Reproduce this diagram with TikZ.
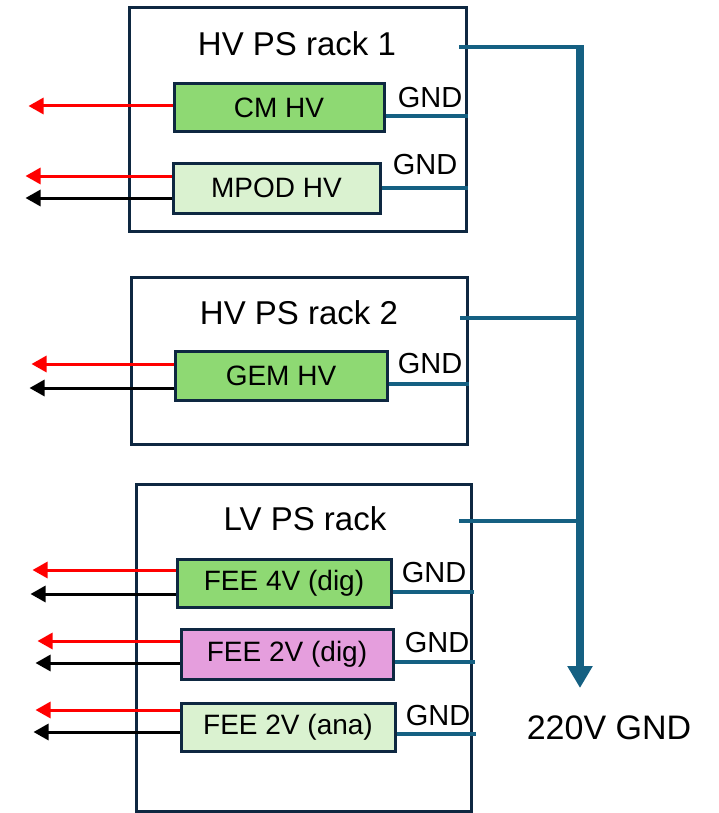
\documentclass[tikz,border=0pt]{standalone}
\usepackage{fontspec}
\setmainfont{Liberation Sans}
\usetikzlibrary{arrows.meta}
\definecolor{rackline}{HTML}{0E2841}
\definecolor{gndblue}{HTML}{156082}
\definecolor{hvgreen}{HTML}{8ED973}
\definecolor{palegreen}{HTML}{DAF2D0}
\definecolor{fuchsia}{HTML}{E59EDD}

\begin{document}
\begin{tikzpicture}[x=0.5pt, y=-0.5pt,
		rack/.style={draw=rackline, line width=1.5pt, inner sep=0pt},
		module/.style={draw=rackline, line width=1.5pt, inner sep=0pt, font=\fontsize{14}{16}\selectfont},
		racktitle/.style={font=\fontsize{16.5}{19}\selectfont},
		gndlabel/.style={font=\fontsize{14.5}{16}\selectfont},
		gndwire/.style={draw=gndblue, line width=1.6pt},
		hvout/.style={draw=red, line width=1.5pt, -{Triangle[width=8pt, length=7.5pt]}},
		retout/.style={draw=black, line width=1.5pt, -{Triangle[width=8pt, length=7.5pt]}},
		bus/.style={draw=gndblue, line width=3.75pt, -{Triangle[width=12pt, length=11pt]}}]
	\useasboundingbox (0,0) rectangle (718,813);

	\node[rack, minimum width=168.5pt, minimum height=112pt] (rack1) at (297.5,119.5) {};
	\node[rack, minimum width=168pt, minimum height=83.5pt] (rack2) at (299,360.5) {};
	\node[rack, minimum width=167.5pt, minimum height=163.5pt] (rackLV) at (303.5,647.5) {};

	\node[racktitle] (title1) at (297,44) {HV PS rack 1};
	\node[racktitle] (title2) at (299,313) {HV PS rack 2};
	\node[racktitle] (titleLV) at (305,519) {LV PS rack};

	\node[module, fill=hvgreen, minimum width=105pt, minimum height=23.5pt] (cmhv) at (279,107.5) {CM HV};
	\node[module, fill=palegreen, minimum width=103.5pt, minimum height=25pt] (mpodhv) at (276.5,188) {MPOD HV};
	\node[module, fill=hvgreen, minimum width=106pt, minimum height=24.5pt] (gemhv) at (281,375.5) {GEM HV};
	\node[module, fill=hvgreen, minimum width=107pt, minimum height=24pt] (fee4dig) at (284,583) {FEE 4V (dig)};
	\node[module, fill=fuchsia, minimum width=106pt, minimum height=25pt] (fee2dig) at (287,654) {FEE 2V (dig)};
	\node[module, fill=palegreen, minimum width=107pt, minimum height=24pt] (fee2ana) at (288,727) {FEE 2V (ana)};

	\draw[hvout] (cmhv.west |- 0,106) -- ++(-144,0);
	\draw[hvout] (mpodhv.west |- 0,176) -- ++(-146,0);
	\draw[retout] (mpodhv.west |- 0,198) -- ++(-146,0);
	\draw[hvout] (gemhv.west |- 0,364) -- ++(-142,0);
	\draw[retout] (gemhv.west |- 0,388) -- ++(-144,0);
	\draw[hvout] (fee4dig.west |- 0,570) -- ++(-143,0);
	\draw[retout] (fee4dig.west |- 0,594) -- ++(-145,0);
	\draw[hvout] (fee2dig.west |- 0,641) -- ++(-142,0);
	\draw[retout] (fee2dig.west |- 0,663) -- ++(-144,0);
	\draw[hvout] (fee2ana.west |- 0,710) -- ++(-144,0);
	\draw[retout] (fee2ana.west |- 0,732) -- ++(-146,0);

	\draw[gndwire] (cmhv.east |- 0,116) -- (rack1.east |- 0,116);
	\draw[gndwire] (mpodhv.east |- 0,188) -- (rack1.east |- 0,188);
	\draw[gndwire] (gemhv.east |- 0,384) -- (rack2.east |- 0,384);
	\draw[gndwire] (fee4dig.east |- 0,592) -- ([xshift=0.5pt]rackLV.east |- 0,592);
	\draw[gndwire] (fee2dig.east |- 0,662) -- ([xshift=1pt]rackLV.east |- 0,662);
	\draw[gndwire] (fee2ana.east |- 0,734) -- ([xshift=1.5pt]rackLV.east |- 0,734);

	\node[gndlabel] (gnd1) at (430,98) {GND};
	\node[gndlabel] (gnd2) at (425,165) {GND};
	\node[gndlabel] (gnd3) at (430,364) {GND};
	\node[gndlabel] (gnd4) at (434,573) {GND};
	\node[gndlabel] (gnd5) at (437,643) {GND};
	\node[gndlabel] (gnd6) at (438,716) {GND};

	\coordinate (busTop) at (580,47);
	\coordinate (tap1) at (459,47);
	\coordinate (tap2) at (460,318);
	\coordinate (tapLV) at (459,521);
	\node[racktitle, font=\fontsize{17}{20}\selectfont, inner sep=0pt] (mains) at (609,728) {220V GND};
	\draw[bus] ([yshift=0.75pt]busTop) -- (busTop |- 0,688);
	\foreach \t in {tap1, tap2, tapLV}
		\draw[gndwire] (\t) -- (\t -| busTop);
\end{tikzpicture}
\end{document}
